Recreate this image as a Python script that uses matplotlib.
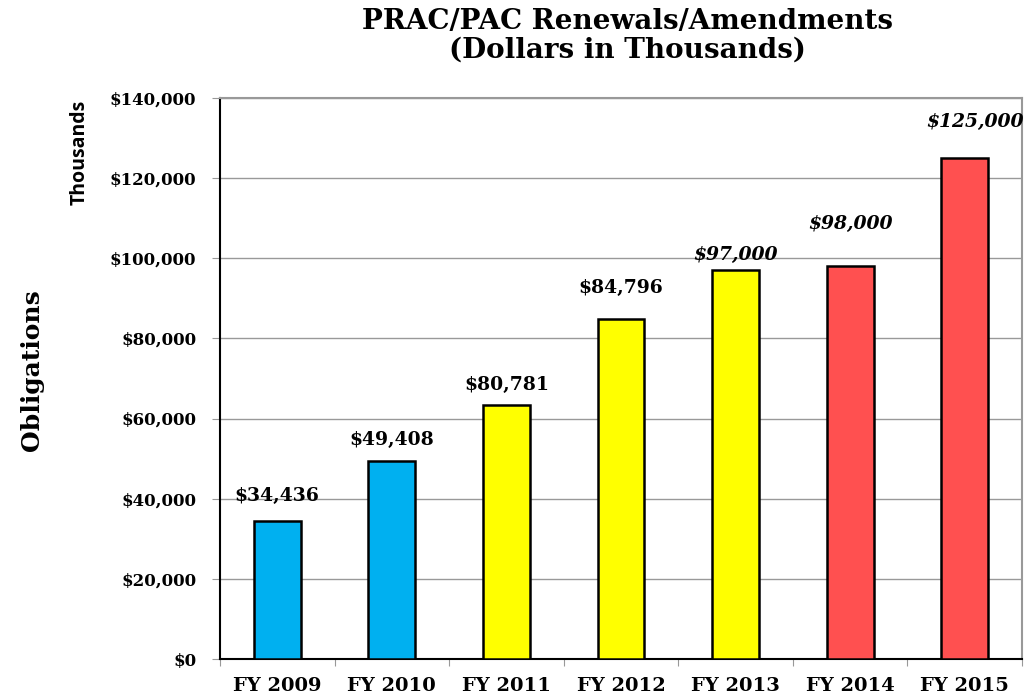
import matplotlib
matplotlib.use("Agg")
import matplotlib.pyplot as plt
from matplotlib.ticker import FuncFormatter, FixedLocator

categories = ["FY 2009", "FY 2010", "FY 2011", "FY 2012", "FY 2013", "FY 2014", "FY 2015"]
bar_values = [34436, 49408, 63300, 84796, 97000, 98000, 125000]
label_texts = ["$34,436", "$49,408", "$80,781", "$84,796", "$97,000", "$98,000", "$125,000"]
label_italic = [False, False, False, False, True, True, True]
bar_colors = ["#00B0F0", "#00B0F0", "#FFFF00", "#FFFF00", "#FFFF00", "#FF5050", "#FF5050"]
# label centre offsets in pixels (dx, dy) from bar tops
label_dx = [0, 0, 0, 0, 0, 0, 10]
label_dy = [25, 21, 20, 31, 15, 42, 36]

SERIF = ["DejaVu Serif"]

fig = plt.figure(figsize=(10.28, 7.0), dpi=100)
ax = fig.add_axes([220 / 1028, 1 - 659 / 700, 802 / 1028, 561 / 700])

x = list(range(len(categories)))
ax.bar(x, bar_values, width=0.41, color=bar_colors, edgecolor="black", linewidth=1.8, zorder=3)

ax.set_xlim(-0.5, len(categories) - 0.5)
ax.set_ylim(0, 140000)
ax.yaxis.set_major_locator(FixedLocator(range(0, 140001, 20000)))
ax.yaxis.set_major_formatter(FuncFormatter(lambda v, p: "${:,.0f}".format(v)))
ax.grid(axis="y", color="#999999", linewidth=1, zorder=0)
ax.set_axisbelow(True)

ax.set_xticks([i - 0.5 for i in range(len(categories) + 1)], minor=False)
ax.set_xticklabels([])
ax.set_xticks(x, minor=True)
ax.set_xticklabels(categories, minor=True, fontfamily=SERIF, fontweight="bold", fontsize=14)
ax.tick_params(axis="x", which="minor", length=0, pad=13)
ax.tick_params(axis="x", which="major", length=5, color="#999999", direction="out")
ax.tick_params(axis="y", length=6, color="#999999", direction="out", pad=11)
for lab in ax.get_yticklabels():
    lab.set_fontfamily(SERIF)
    lab.set_fontweight("bold")
    lab.set_fontsize(12)

for side in ["top", "right"]:
    ax.spines[side].set_color("#999999")
    ax.spines[side].set_linewidth(1.5)
for side in ["left", "bottom"]:
    ax.spines[side].set_color("black")
    ax.spines[side].set_linewidth(1.5)

for i, (v, t) in enumerate(zip(bar_values, label_texts)):
    ax.annotate(t, xy=(i, v), xytext=(label_dx[i], label_dy[i]), textcoords="offset pixels",
                ha="center", va="center", fontfamily=SERIF, fontweight="bold",
                fontstyle="italic" if label_italic[i] else "normal", fontsize=13.5, zorder=4)

fig.text(627 / 1028, 1 - 8 / 700, "PRAC/PAC Renewals/Amendments\n(Dollars in Thousands)",
         ha="center", va="top", fontfamily=SERIF, fontweight="bold", fontsize=20, linespacing=1.1)
fig.text(32 / 1028, 1 - 370 / 700, "Obligations", rotation=90, ha="center", va="center",
         fontfamily=SERIF, fontweight="bold", fontsize=18)
fig.text(80 / 1028, 1 - 152 / 700, "Thousands", rotation=90, ha="center", va="center",
         fontfamily=["Open Sans", "DejaVu Sans"], fontweight="bold", fontsize=14)

fig.savefig("out.png", dpi=100)
